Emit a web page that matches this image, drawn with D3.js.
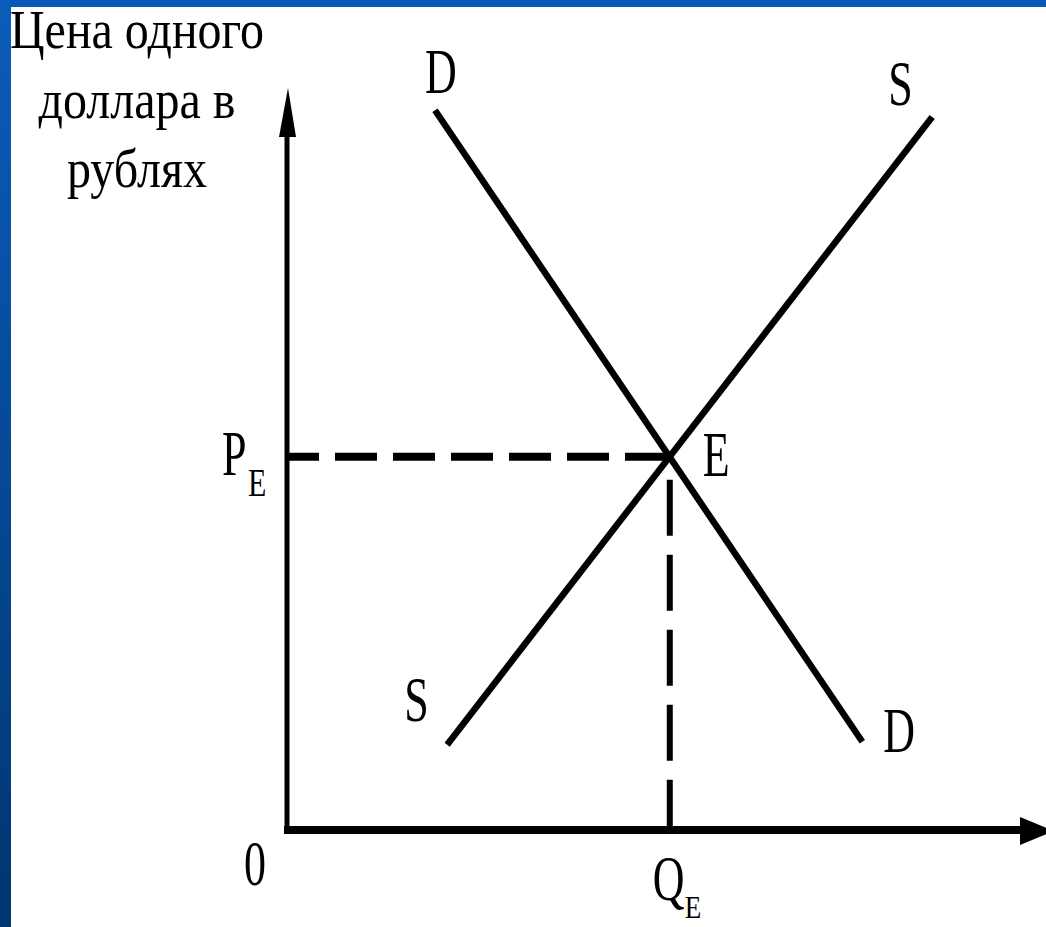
<!DOCTYPE html>
<html>
<head>
<meta charset="utf-8">
<script src="https://cdn.jsdelivr.net/npm/d3@7"></script>
<style>
  body { margin: 0; background: #fff; }
</style>
</head>
<body>
<script>
var width = 1046, height = 927;

// curve end points (quantity, price on a 0..100 scale)
var demand = [{q: 19.5, p: 97.0}, {q: 75.8, p: 11.9}];
var supply = [{q: 21.1, p: 11.5}, {q: 85.0, p: 96.1}];
var equilibrium = {q: 50.3, p: 50.3};
var yTitle = ["Цена одного", "доллара в", "рублях"];

var x = d3.scaleLinear().domain([0, 100]).range([287, 1046]),
    y = d3.scaleLinear().domain([0, 100]).range([830, 88]);

var svg = d3.select("body").append("svg")
    .attr("width", width)
    .attr("height", height)
    .style("display", "block");

// slide frame: blue strips on top and left
var grad = svg.append("defs").append("linearGradient")
    .attr("id", "leftBlue").attr("x1", 0).attr("y1", 0).attr("x2", 0).attr("y2", 1);
grad.append("stop").attr("offset", "0%").attr("stop-color", "#0b5cbc");
grad.append("stop").attr("offset", "100%").attr("stop-color", "#003670");

svg.append("rect").attr("width", width).attr("height", height).attr("fill", "#fff");
svg.append("rect").attr("width", width).attr("height", 7).attr("fill", "#0a58b6");
svg.append("rect").attr("width", 11).attr("height", height).attr("fill", "url(#leftBlue)");

// stretched serif text, like the original bitmap
function label(txt, px, py, size, sy, anchor) {
  return svg.append("text")
      .attr("transform", "translate(" + px + "," + py + ") scale(1," + sy + ")")
      .attr("font-family", "'Liberation Serif', 'DejaVu Serif', serif")
      .attr("font-size", size)
      .attr("fill", "#000")
      .attr("text-anchor", anchor || "start")
      .text(txt);
}

// axes
var x0 = x(0), y0 = y(0);
svg.append("line")
    .attr("x1", x0).attr("y1", y0 + 4)
    .attr("x2", x0).attr("y2", y(100) + 40)
    .attr("stroke", "#000").attr("stroke-width", 5);
svg.append("path")
    .attr("d", "M" + (x0 + 1) + "," + y(100) + "L" + (x0 - 8) + "," + (y(100) + 49) +
               "L" + (x0 + 9) + "," + (y(100) + 49) + "Z")
    .attr("fill", "#000");

svg.append("line")
    .attr("x1", x0 - 3).attr("y1", y0)
    .attr("x2", 1025).attr("y2", y0)
    .attr("stroke", "#000").attr("stroke-width", 8);
svg.append("path")
    .attr("d", "M1020," + (y0 - 13) + "L1020," + (y0 + 15) + "L1054," + (y0 + 1) + "Z")
    .attr("fill", "#000");

// dashed guides to the equilibrium
svg.append("line")
    .attr("x1", x0).attr("y1", y(equilibrium.p))
    .attr("x2", x(equilibrium.q)).attr("y2", y(equilibrium.p))
    .attr("stroke", "#000").attr("stroke-width", 8)
    .attr("stroke-dasharray", "42,16").attr("stroke-dashoffset", 10);
svg.append("line")
    .attr("x1", x(equilibrium.q) + 1).attr("y1", y(equilibrium.p))
    .attr("x2", x(equilibrium.q) + 1).attr("y2", y0)
    .attr("stroke", "#000").attr("stroke-width", 6)
    .attr("stroke-dasharray", "56,19").attr("stroke-dashoffset", 52);

// demand and supply lines
var line = d3.line().x(function(d) { return x(d.q); }).y(function(d) { return y(d.p); });
[demand, supply].forEach(function(s) {
  svg.append("path")
      .attr("d", line(s))
      .attr("fill", "none")
      .attr("stroke", "#000")
      .attr("stroke-width", 6.5);
});

// labels
label("D", x(demand[0].q) - 10, y(demand[0].p) - 17, 44, 1.45);
label("D", x(demand[1].q) + 21, y(demand[1].p) + 10, 44, 1.45);
label("S", x(supply[0].q) - 43, y(supply[0].p) - 24, 44, 1.45);
label("S", x(supply[1].q) - 44, y(supply[1].p) - 12, 44, 1.45);
label("E", x(equilibrium.q) + 34, y(equilibrium.p) + 19, 44, 1.45);

label("P", x0 - 65, y(equilibrium.p) + 18, 44, 1.45);
label("E", x0 - 39, y(equilibrium.p) + 39, 30, 1.3);
label("Q", x(equilibrium.q) - 16, y0 + 70, 44, 1.45);
label("E", x(equilibrium.q) + 16, y0 + 88, 27, 1.2);
label("0", x0 - 43, y0 + 55, 44, 1.45);

// y axis title
var titleY = [48, 118, 187];
yTitle.forEach(function(t, i) {
  label(t, 137, titleY[i], 48, 1.15, "middle");
});
</script>
</body>
</html>
